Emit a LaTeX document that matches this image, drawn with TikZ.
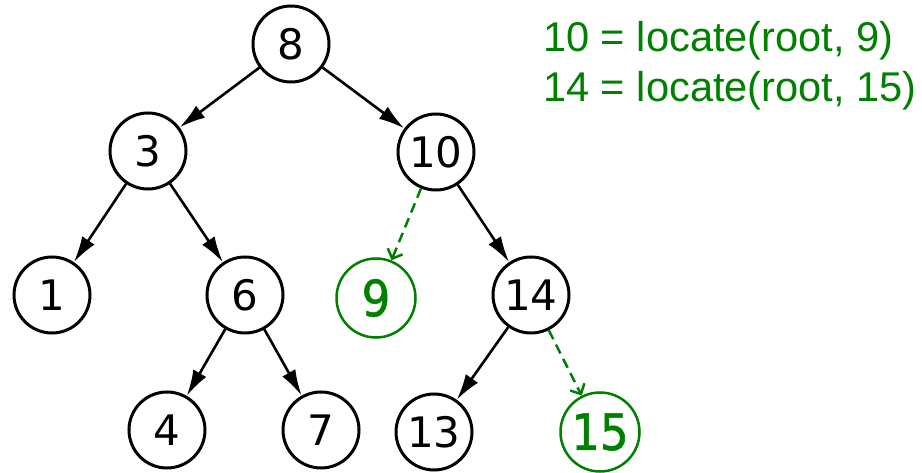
\documentclass[tikz,border=0pt]{standalone}
\usepackage{fontspec}
\setmainfont{DejaVu Sans}
\newfontfamily\labfont{Liberation Sans}
\newfontfamily\gfont[FakeBold=1.2]{DejaVu Sans Condensed}
\usetikzlibrary{arrows.meta}
\definecolor{grn}{RGB}{0,128,0}
\tikzset{
  bnode/.style={circle, draw=black, line width=3pt, minimum size=76pt, inner sep=0pt, font=\fontsize{42}{42}\selectfont},
  gnode/.style={circle, draw=grn, line width=2.5pt, minimum size=79pt, inner sep=0pt, text=grn, font=\gfont\fontsize{50}{50}\selectfont},
  bedge/.style={line width=2.6pt, -{Latex[length=26pt,width=15pt]}},
  gedge/.style={draw=grn, line width=2.5pt, dash pattern=on 10pt off 6pt, -{Straight Barb[length=8pt,width=16pt,line width=2.5pt]}},
  lab/.style={anchor=base west, text=grn, font=\labfont\fontsize{41.6}{41.6}\selectfont, inner sep=0pt}
}
\begin{document}
\begin{tikzpicture}[x=1pt,y=-1pt]
\path[use as bounding box] (0,0) rectangle (922,473);
\node[bnode] (n8) at (291,44) {8};
\node[bnode] (n3) at (148,151) {3};
\node[bnode] (n10) at (436,152) {10};
\node[bnode] (n1) at (52,295) {1};
\node[bnode] (n6) at (245,295) {6};
\node[gnode] (n9) at (376,298) {9};
\node[bnode] (n14) at (531,295) {14};
\node[bnode] (n4) at (167,430) {4};
\node[bnode] (n7) at (321,430) {7};
\node[bnode] (n13) at (434,432) {13};
\node[gnode] (n15) at (600,432) {15};
\draw[bedge] (n8) -- (n3);
\draw[bedge] (n8) -- (n10);
\draw[bedge] (n3) -- (n1);
\draw[bedge] (n3) -- (n6);
\draw[bedge] (n6) -- (n4);
\draw[bedge] (n6) -- (n7);
\draw[bedge] (n10) -- (n14);
\draw[bedge] (n14) -- (n13);
\draw[gedge] (n10) -- (n9);
\draw[gedge] (n14) -- (n15);
\node[lab] (t1) at (543,52) {10 = locate(root, 9)};
\node[lab] (t2) at (543,102) {14 = locate(root, 15)};
\end{tikzpicture}
\end{document}
